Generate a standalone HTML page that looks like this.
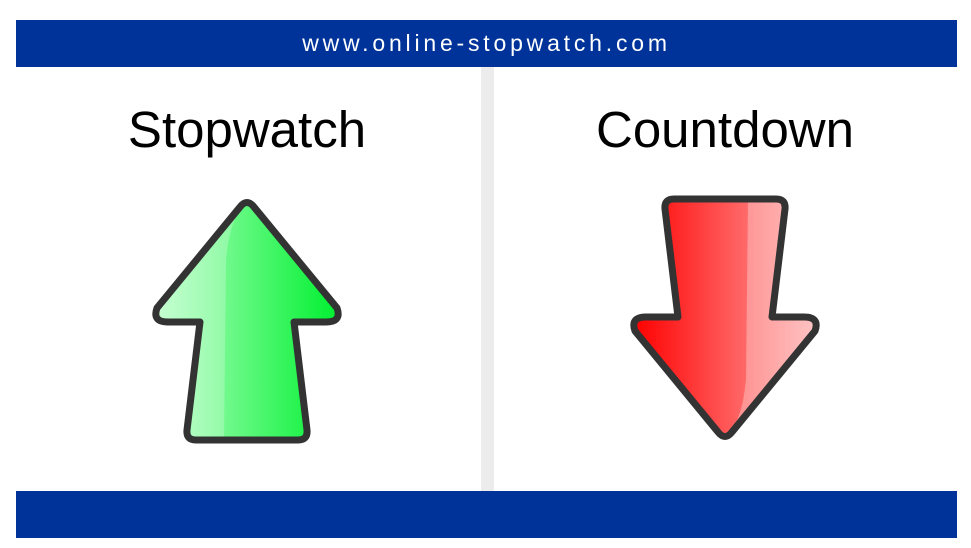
<!DOCTYPE html>
<html><head><meta charset="utf-8"><style>
body{margin:0;width:971px;height:548px;background:#fff;position:relative;overflow:hidden;font-family:"Liberation Sans",sans-serif}
.bar{position:absolute;left:16px;width:941px;background:#003399}
.title{position:absolute;top:100px;width:320px;text-align:center;font-size:51px;color:#000}
</style></head><body>
<div class="bar" style="top:20px;height:47px;color:#fff;text-align:center;font-size:23px;line-height:47px;letter-spacing:3.8px">
<span>www.online-stopwatch.com</span></div>
<div style="position:absolute;left:481px;top:67px;width:13px;height:424px;background:#ececec"></div>
<div class="bar" style="top:491px;height:47px"></div>
<div class="title" style="left:87px">Stopwatch</div>
<div class="title" style="left:565px">Countdown</div>
<svg width="971" height="548" style="position:absolute;left:0;top:0">
<defs>
<linearGradient id="g" x1="0" x2="1" y1="0" y2="0"><stop offset="0" stop-color="#b5ffc4"/><stop offset="1" stop-color="#00f030"/></linearGradient>
<linearGradient id="r" x1="0" x2="1" y1="0" y2="0"><stop offset="0" stop-color="#ff0000"/><stop offset="1" stop-color="#ffaaaa"/></linearGradient>
</defs>
<g>
<path d="M240,207 Q247,198 254,207 L337,308 Q342,322 326,322 L294,322 L307,430 Q308,440 298,440 L196,440 Q186,440 187,430 L200,322 L168,322 Q152,322 157,308 Z" fill="url(#g)"/>
<path d="M247,203 Q230,215 226,260 L224,440 L196,440 Q186,440 187,430 L200,322 L168,322 Q152,322 157,308 L240,207 Z" fill="#fff" opacity="0.25"/>
<path d="M240,207 Q247,198 254,207 L337,308 Q342,322 326,322 L294,322 L307,430 Q308,440 298,440 L196,440 Q186,440 187,430 L200,322 L168,322 Q152,322 157,308 Z" fill="none" stroke="#333" stroke-width="7" stroke-linejoin="round"/>
</g>
<g>
<path d="M732,432 Q725,441 718,432 L635,331 Q630,317 646,317 L678,317 L665,209 Q664,199 674,199 L776,199 Q786,199 785,209 L772,317 L804,317 Q820,317 815,331 Z" fill="url(#r)"/>
<path d="M725,436 Q742,424 746,379 L748,199 L776,199 Q786,199 785,209 L772,317 L804,317 Q820,317 815,331 L732,432 Z" fill="#fff" opacity="0.3"/>
<path d="M732,432 Q725,441 718,432 L635,331 Q630,317 646,317 L678,317 L665,209 Q664,199 674,199 L776,199 Q786,199 785,209 L772,317 L804,317 Q820,317 815,331 Z" fill="none" stroke="#333" stroke-width="7" stroke-linejoin="round"/>
</g>
</svg>
</body></html>
